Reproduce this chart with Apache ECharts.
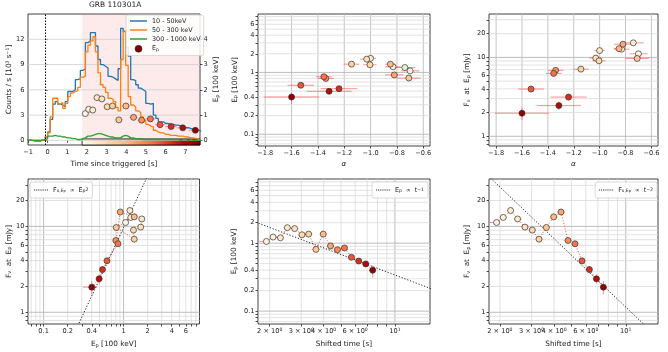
<!DOCTYPE html>
<html><head><meta charset="utf-8">
<script src="https://cdn.jsdelivr.net/npm/echarts@6/dist/echarts.min.js"></script>
<style>html,body{margin:0;padding:0;background:#fff}#c{width:668px;height:352px}</style>
</head><body><div id="c"></div><script>
// ---------------- data ----------------
const lcStart = -1.024, lcBin = 0.128;
const lcBlue = [0.05,0,-0.1,-0.1,-0.1,0,0,0.4,1.0,2.5,4.3,4.6,4.3,4.2,4.0,4.6,5.8,5.8,6.0,7.2,7.3,8.3,8.5,11.6,11.8,12.8,12.8,11.2,9.6,9.0,8.8,8.6,7.6,7.5,7.3,7.1,8.5,13.3,12.9,11.0,10.0,7.2,7.1,6.6,6.2,6.0,5.8,4.4,4.3,4.4,3.0,2.6,2.2,2.2,2.0,2.0,1.9,1.9,1.8,1.8,1.7,1.6,1.5,1.5,1.4,1.3,1.2,1.2,1.1];
const lcOrange = [0,0,0,0,0,0,0.05,0.4,0.9,2.8,5.0,5.0,4.3,4.5,3.8,4.4,5.2,5.6,5.8,5.9,6.3,7.5,7.6,10.5,11.3,11.8,12.3,10.5,8.0,6.6,6.3,5.7,5.0,4.9,4.6,3.9,3.5,9.6,13.0,8.9,5.2,4.2,4.0,3.5,3.3,2.8,2.4,1.9,1.7,1.6,1.2,1.0,0.9,0.9,0.7,0.7,0.6,0.6,0.6,0.5,0.5,0.5,0.4,0.4,0.3,0.3,0.2,0.1,0.0];
const lcGreen = [0,0,0,0,0,0.05,0.05,0.2,0.5,0.5,0.6,0.5,0.5,0.4,0.4,0.3,0.3,0.2,0.2,0.1,0.1,0.2,0.3,0.5,0.5,0.6,0.7,0.8,0.8,0.7,0.6,0.5,0.4,0.4,0.3,0.3,0.3,0.5,0.6,0.5,0.3,0.3,0.2,0.2,0.2,0.1,0.1,0.1,0.1,0.1,0.1,0.1,0.1,0.1,0.1,0.1,0.1,0.1,0.1,0.1,0.0,0.1,0.1,0.0,0.1,0.0,0.0,0.0,0.0];
const triggerLine = -0.1;

const tEdges = [1.75,2.00,2.19,2.40,2.63,2.89,3.17,3.46,3.80,4.17,4.57,5.00,5.47,5.98,6.56,7.20,7.85];
const tMid   = [1.917,2.088,2.294,2.508,2.755,3.027,3.298,3.622,3.979,4.370,4.779,5.227,5.716,6.281,6.873,7.513];
const ep     = [1.06,1.23,1.20,1.69,1.64,1.33,1.36,0.81,1.36,0.91,0.80,0.85,0.62,0.545,0.495,0.40];
const epErrLo= [0.04,0.05,0.05,0.06,0.06,0.05,0.05,0.04,0.05,0.04,0.04,0.04,0.04,0.04,0.05,0.09];
const epErrHi= [0.04,0.05,0.05,0.06,0.06,0.05,0.05,0.04,0.05,0.04,0.04,0.04,0.04,0.04,0.05,0.07];
const fnu    = [11.1,12.7,15.3,12.2,9.8,9.05,7.1,9.7,12.9,14.7,6.85,6.27,3.97,3.14,2.45,1.96];
const fnuErr = [0.6,0.7,0.8,0.7,0.6,0.5,0.4,0.6,0.7,0.8,0.45,0.4,0.3,0.3,0.3,0.35];
const alpha  = [-0.70,-0.83,-0.74,-1.00,-1.03,-1.005,-1.145,-0.71,-0.85,-0.82,-1.34,-1.355,-1.53,-1.24,-1.315,-1.60];
const alphaErr=[0.07,0.06,0.08,0.04,0.05,0.05,0.06,0.09,0.04,0.07,0.06,0.06,0.10,0.14,0.17,0.21];

// reference power-law lines (end points)
const refP4Ep = [0.2, 2.5],  refP4F  = [0.388, 60.6];
const refP5T  = [1.5, 20],   refP5Ep = [2.27, 0.17];
const refP6T  = [1.5, 20],   refP6F  = [51.1, 0.2875];

// ticks / gridlines
const timeTicks = [-1,0,1,2,3,4,5,6,7];
const cntTicks = [0,3,6,9,12];
const epLinTicks = [0,1,2,3,4];
const alphaTicks = [-1.8,-1.6,-1.4,-1.2,-1.0,-0.8,-0.6];
const epGrid = [0.07,0.08,0.09,0.1,0.2,0.3,0.4,0.5,0.6,0.7,0.8,0.9,1,2,3,4,5,6,7,8];
const epLabels = [0.1,0.2,0.4,1,2,4,6];
const fGrid = [0.8,0.9,1,2,3,4,5,6,7,8,9,10,20,30];
const fLabels = [1,2,4,6,10,20];
const tGrid = [2,3,4,5,6,7,8,9,10];
const tLabels = [2,3,4,6,10];
const decades = [0.1,1,10];

// ---------------- style helpers ----------------
const FONT = 'DejaVu Sans';
const TXT = '#222';
const ERR = 'rgba(255,40,40,0.5)';
const ORRD = ['#fff7ec','#fee8c8','#fdd49e','#fdbb84','#fc8d59','#ef6548','#d7301f','#b30000','#7f0000'];
function hex2rgb(h){return [parseInt(h.substr(1,2),16),parseInt(h.substr(3,2),16),parseInt(h.substr(5,2),16)];}
function orrd(f){f=Math.max(0,Math.min(1,f));const n=ORRD.length-1;const p=f*n;const i=Math.min(Math.floor(p),n-1);const u=p-i;
  const a=hex2rgb(ORRD[i]),b=hex2rgb(ORRD[i+1]);return 'rgb('+a.map((v,k)=>Math.round(v+(b[k]-v)*u)).join(',')+')';}
const cb0 = tEdges[0], cb1 = 7.75;
const ptColor = tMid.map(t=>orrd((t-cb0)/(cb1-cb0)));

const richSub = {s:{fontSize:5,verticalAlign:'bottom',fontFamily:FONT,color:TXT}};
function fmtLog(v){return String(+(+v).toPrecision(4));}
function fmtMinus(d){return v=>(v<0?'\u2212':'')+Math.abs(v).toFixed(d);}

function axis(o){
  const a = {
    gridIndex:o.g, type:o.type||'value', min:o.min, max:o.max,
    position:o.position,
    axisLine:{show:false},
    axisTick:{show:true,length:2.5,lineStyle:{color:'#222',width:0.8},customValues:o.ticks},
    axisLabel:{fontFamily:FONT,fontSize:6.6,color:TXT,margin:3.5,customValues:o.labels,formatter:o.fmt,rich:o.rich},
    splitLine:{show:false},
    name:o.name, nameLocation:'middle', nameGap:o.gap, nameRotate:o.rot,
    nameTextStyle:{fontFamily:FONT,fontSize:7.3,color:TXT,fontStyle:o.italic?'italic':'normal',rich:richSub}
  };
  if(a.type==='log') a.logBase=10;
  return a;
}

function gridLines(xi, yi, dir, vals, ref, majors, col, colMajor){
  return {type:'custom', xAxisIndex:xi, yAxisIndex:yi, silent:true, z:1,
    data: vals.map(v=>dir==='v'?[v,ref]:[ref,v]),
    renderItem:(params,api)=>{
      const cs=params.coordSys; const p=api.coord([api.value(0),api.value(1)]);
      const v = dir==='v'?api.value(0):api.value(1);
      const maj = majors.some(m=>Math.abs(m-v)<1e-9);
      const st={stroke: maj?(colMajor||'#bcbcbc'):(col||'#dadada'), lineWidth: maj?1:0.8};
      return dir==='v'
        ? {type:'line',shape:{x1:p[0],y1:cs.y,x2:p[0],y2:cs.y+cs.height},style:st}
        : {type:'line',shape:{x1:cs.x,y1:p[1],x2:cs.x+cs.width,y2:p[1]},style:st};
    }};
}
function errBars(xi, yi, rows){
  return {type:'custom', xAxisIndex:xi, yAxisIndex:yi, silent:true, z:3, clip:true,
    data: rows, encode:{x:0,y:1},
    renderItem:(params,api)=>{
      const x=api.value(0),y=api.value(1);
      const a=api.coord([api.value(2),y]),b=api.coord([api.value(3),y]);
      const c=api.coord([x,api.value(4)]),d=api.coord([x,api.value(5)]);
      const st={stroke:ERR,lineWidth:1};
      return {type:'group',children:[
        {type:'line',shape:{x1:a[0],y1:a[1],x2:b[0],y2:b[1]},style:st},
        {type:'line',shape:{x1:c[0],y1:c[1],x2:d[0],y2:d[1]},style:st}]};
    }};
}
function scatter(xi, yi, xs, ys, name){
  return {type:'scatter', name:name, xAxisIndex:xi, yAxisIndex:yi, z:5, symbol:'circle', symbolSize:6,
    data: xs.map((x,i)=>[x,ys[i]]),
    itemStyle:{color:p=>ptColor[p.dataIndex], borderColor:'#333', borderWidth:0.7, opacity:1}};
}
function connect(xi, yi, xs, ys){
  return {type:'line', xAxisIndex:xi, yAxisIndex:yi, z:2, symbol:'none', silent:true,
    data: xs.map((x,i)=>[x,ys[i]]), lineStyle:{color:'rgba(255,50,50,0.8)',width:1,type:[1.2,1.6]}};
}
function refLine(xi, yi, xs, ys, name){
  return {type:'line', name:name, xAxisIndex:xi, yAxisIndex:yi, z:4, symbol:'none', silent:true, clip:true,
    data: xs.map((x,i)=>[x,ys[i]]), lineStyle:{color:'#222',width:1,type:[1.2,1.8]}, itemStyle:{color:'#222'}};
}

// ---------------- grids & axes ----------------
const grids = [
  {left:28, top:14, width:172, height:131},
  {left:258, top:14, width:172, height:132},
  {left:489, top:14, width:169, height:132},
  {left:28, top:179, width:171.5, height:145},
  {left:258, top:179, width:172, height:145},
  {left:489, top:179, width:169, height:145}
].map(g=>Object.assign({show:true,borderColor:'#111',borderWidth:0.8,backgroundColor:'rgba(0,0,0,0)'},g));

const supRich = {sup:{fontSize:4.6,verticalAlign:'top',fontFamily:FONT,color:TXT}};
const tFmt = v => v===10 ? '10{sup|1}' : v+' \u00d7 10{sup|0}';

const xAxes = [
  axis({g:0,min:-1,max:7.75,ticks:timeTicks,labels:timeTicks,fmt:fmtMinus(0),name:'Time since triggered [s]',gap:16}),
  axis({g:1,min:-1.855,max:-0.549,ticks:alphaTicks,labels:alphaTicks,fmt:fmtMinus(1),name:'\u03b1',gap:15,italic:true}),
  axis({g:2,min:-1.855,max:-0.549,ticks:alphaTicks,labels:alphaTicks,fmt:fmtMinus(1),name:'\u03b1',gap:15,italic:true}),
  axis({g:3,type:'log',min:0.0638,max:8.9,ticks:epGrid,labels:epLabels,fmt:fmtLog,name:'E{s|p} [100 keV]',gap:17}),
  axis({g:4,type:'log',min:1.72,max:15.7,ticks:tGrid,labels:tLabels,fmt:tFmt,rich:supRich,name:'Shifted time [s]',gap:17}),
  axis({g:5,type:'log',min:1.74,max:15.1,ticks:tGrid,labels:tLabels,fmt:tFmt,rich:supRich,name:'Shifted time [s]',gap:17})
];
const yAxes = [
  axis({g:0,min:-0.55,max:15,ticks:cntTicks,labels:cntTicks,fmt:fmtMinus(0),name:'Counts / s [10\u00b3 s\u207b\u00b9]',gap:10,rot:90}),
  axis({g:0,min:-0.55/3,max:5,ticks:epLinTicks,labels:epLinTicks,fmt:fmtMinus(0),name:'E{s|p} [100 keV]',gap:13,rot:90,position:'right'}),
  axis({g:1,type:'log',min:0.0646,max:8.8,ticks:epGrid,labels:epLabels,fmt:fmtLog,name:'E{s|p} [100 keV]',gap:19.5,rot:90}),
  axis({g:2,type:'log',min:0.753,max:35.5,ticks:fGrid,labels:fLabels,fmt:fmtLog,name:'F{s|\u03bd}  at  E{s|p} [mJy]',gap:18,rot:90}),
  axis({g:3,type:'log',min:0.73,max:35.6,ticks:fGrid,labels:fLabels,fmt:fmtLog,name:'F{s|\u03bd}  at  E{s|p} [mJy]',gap:15,rot:90}),
  axis({g:4,type:'log',min:0.0646,max:8.8,ticks:epGrid,labels:epLabels,fmt:fmtLog,name:'E{s|p} [100 keV]',gap:20,rot:90}),
  axis({g:5,type:'log',min:0.73,max:35.6,ticks:fGrid,labels:fLabels,fmt:fmtLog,name:'F{s|\u03bd}  at  E{s|p} [mJy]',gap:18,rot:90})
];

// ---------------- series ----------------
const series = [];
const lcEnd = lcStart + lcBlue.length*lcBin;
function stepData(arr){const d=arr.map((v,i)=>[lcStart+i*lcBin,v]);d.push([lcEnd,arr[arr.length-1]]);return d;}
const cbGrad = {type:'linear',x:0,y:0,x2:1,y2:0,colorStops:ORRD.map((c,i)=>({offset:i/(ORRD.length-1),color:c}))};

// Panel 1
series.push(gridLines(0,0,'h',cntTicks,0,[],'#cfcfcf'));
series.push({type:'line',name:'10 - 50keV',xAxisIndex:0,yAxisIndex:0,step:'end',symbol:'none',z:3,
  data:stepData(lcBlue),lineStyle:{color:'#1f77b4',width:1.3},itemStyle:{color:'#1f77b4'},
  markArea:{silent:true,data:[
    [{xAxis:tEdges[0],itemStyle:{color:'rgba(240,120,120,0.15)'}},{xAxis:cb1}],
    [{xAxis:tEdges[0],yAxis:-0.55,itemStyle:{color:cbGrad,borderColor:'#000',borderWidth:0.8}},{xAxis:cb1,yAxis:0.17}]
  ]},
  markLine:{silent:true,symbol:'none',label:{show:false},lineStyle:{type:[1.5,1.5],color:'#000',width:1},data:[{xAxis:triggerLine}]}
});
series.push({type:'line',name:'50 - 300 keV',xAxisIndex:0,yAxisIndex:0,step:'end',symbol:'none',z:3,
  data:stepData(lcOrange),lineStyle:{color:'#ff7f0e',width:1.3},itemStyle:{color:'#ff7f0e'}});
series.push({type:'line',name:'300 - 1000 keV',xAxisIndex:0,yAxisIndex:0,step:'end',symbol:'none',z:3,
  data:stepData(lcGreen),lineStyle:{color:'#2ca02c',width:1.3},itemStyle:{color:'#2ca02c'}});
series.push(errBars(0,1,tMid.map((t,i)=>[t,ep[i],tEdges[i],tEdges[i+1],ep[i]-epErrLo[i],ep[i]+epErrHi[i]])));
series.push(scatter(0,1,tMid,ep,'Ep'));

// Panel 2: alpha vs Ep
series.push(gridLines(1,2,'v',alphaTicks,1,alphaTicks,'#c4c4c4','#c4c4c4'));
series.push(gridLines(1,2,'h',epGrid,-1,decades));
series.push(errBars(1,2,alpha.map((a,i)=>[a,ep[i],a-alphaErr[i],a+alphaErr[i],ep[i]-epErrLo[i],ep[i]+epErrHi[i]])));
series.push(scatter(1,2,alpha,ep,'s2'));

// Panel 3: alpha vs F
series.push(gridLines(2,3,'v',alphaTicks,5,alphaTicks,'#c4c4c4','#c4c4c4'));
series.push(gridLines(2,3,'h',fGrid,-1,decades));
series.push(errBars(2,3,alpha.map((a,i)=>[a,fnu[i],a-alphaErr[i],a+alphaErr[i],fnu[i]-fnuErr[i],fnu[i]+fnuErr[i]])));
series.push(scatter(2,3,alpha,fnu,'s3'));

// Panel 4: Ep vs F
series.push(gridLines(3,4,'v',epGrid,5,decades));
series.push(gridLines(3,4,'h',fGrid,1,decades));
series.push(connect(3,4,ep,fnu));
series.push(errBars(3,4,ep.map((e,i)=>[e,fnu[i],e-epErrLo[i],e+epErrHi[i],fnu[i]-fnuErr[i],fnu[i]+fnuErr[i]])));
series.push(scatter(3,4,ep,fnu,'s4'));
series.push(refLine(3,4,refP4Ep,refP4F,'refP4'));

// Panel 5: t vs Ep
series.push(gridLines(4,5,'v',tGrid,1,decades));
series.push(gridLines(4,5,'h',epGrid,5,decades));
series.push(connect(4,5,tMid,ep));
series.push(errBars(4,5,tMid.map((t,i)=>[t,ep[i],tEdges[i],tEdges[i+1],ep[i]-epErrLo[i],ep[i]+epErrHi[i]])));
series.push(scatter(4,5,tMid,ep,'s5'));
series.push(refLine(4,5,refP5T,refP5Ep,'refP5'));

// Panel 6: t vs F
series.push(gridLines(5,6,'v',tGrid,5,decades));
series.push(gridLines(5,6,'h',fGrid,5,decades));
series.push(connect(5,6,tMid,fnu));
series.push(errBars(5,6,tMid.map((t,i)=>[t,fnu[i],tEdges[i],tEdges[i+1],fnu[i]-fnuErr[i],fnu[i]+fnuErr[i]])));
series.push(scatter(5,6,tMid,fnu,'s6'));
series.push(refLine(5,6,refP6T,refP6F,'refP6'));

// ---------------- legends ----------------
const ICON_SOLID = 'path://M0,0h30v2.6h-30z';
const ICON_DOT = 'path://M0,0h2v2h-2zM4,0h2v2h-2zM8,0h2v2h-2zM12,0h2v2h-2zM16,0h2v2h-2zM20,0h2v2h-2zM24,0h2v2h-2zM28,0h2v2h-2z';
const legRich = {
  a:{fontSize:6.4,fontFamily:FONT,color:TXT},
  s:{fontSize:4.6,fontFamily:FONT,color:TXT,verticalAlign:'bottom'},
  ss:{fontSize:3.6,fontFamily:FONT,color:TXT,verticalAlign:'bottom'},
  sp:{fontSize:4.6,fontFamily:FONT,color:TXT,verticalAlign:'top'}
};
const legBase = {orient:'vertical',selectedMode:false,backgroundColor:'rgba(255,255,255,0.85)',borderColor:'#d0d0d0',
  borderWidth:0.8,borderRadius:2,itemWidth:14,itemHeight:7,itemGap:3,padding:[4,4,4,4],symbolKeepAspect:true,
  textStyle:{fontFamily:FONT,fontSize:6.4,color:TXT,rich:legRich}};
const legends = [
  Object.assign({},legBase,{left:126,top:15,itemWidth:17,padding:[3,3,3,4],
    data:[{name:'10 - 50keV',icon:ICON_SOLID},{name:'50 - 300 keV',icon:ICON_SOLID},{name:'300 - 1000 keV',icon:ICON_SOLID},
      {name:'Ep',icon:'circle',itemStyle:{color:'#7f0000',borderColor:'#333',borderWidth:0.6}}],
    formatter:n=>n==='Ep'?'E{s|p}':n}),
  Object.assign({},legBase,{left:30,top:182,padding:[5,4,5,4],data:[{name:'refP4',icon:ICON_DOT}],
    formatter:()=>'{a|F}{s|\u03bd,E}{ss|p}{a|  \u221d  E}{s|p}{sp|2}'}),
  Object.assign({},legBase,{right:240,top:182,padding:[5,4,5,4],data:[{name:'refP5',icon:ICON_DOT}],
    formatter:()=>'{a|E}{s|p}{a|  \u221d  t}{sp|\u22121}'}),
  Object.assign({},legBase,{right:11,top:182,padding:[5,4,5,4],data:[{name:'refP6',icon:ICON_DOT}],
    formatter:()=>'{a|F}{s|\u03bd,E}{ss|p}{a|  \u221d  t}{sp|\u22122}'})
];

const chart = echarts.init(document.getElementById('c'));
chart.setOption({
  animation:false,
  backgroundColor:'#fff',
  title:{text:'GRB 110301A',left:89,top:1,padding:0,textStyle:{fontFamily:FONT,fontSize:7.5,fontWeight:'normal',color:TXT}},
  grid:grids, xAxis:xAxes, yAxis:yAxes, legend:legends, series:series
});
</script></body></html>
